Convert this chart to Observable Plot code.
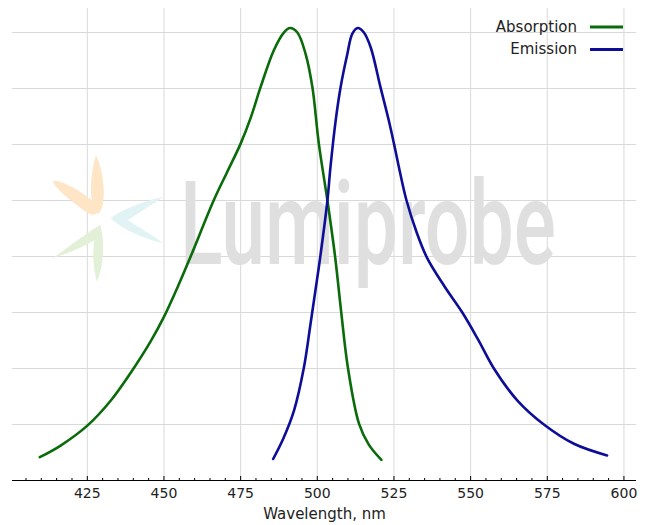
<!DOCTYPE html>
<html><head><meta charset="utf-8">
<script src="https://cdn.jsdelivr.net/npm/d3@7"></script>
<script src="https://cdn.jsdelivr.net/npm/@observablehq/plot@0.6"></script>
<style>body{margin:0;background:#fff} #chart svg{display:block}</style>
</head><body><div id="chart"></div>
<script>
// ---- data ----
const absorptionWavelength = [409.5, 416.3, 425.1, 432.6, 439.1, 445.6, 449.9, 454.4, 458.7, 466.2, 470.5, 475.0, 478.3, 481.5, 485.8, 489.1, 491.1, 493.5, 496.2, 498.4, 500.5, 503.3, 505.8, 507.8, 510.0, 513.6, 516.8, 520.9];
const absorptionIntensity  = [0.052, 0.078, 0.123, 0.178, 0.240, 0.310, 0.364, 0.431, 0.50, 0.625, 0.687, 0.752, 0.810, 0.878, 0.960, 1.0, 1.01, 1.0, 0.952, 0.878, 0.752, 0.625, 0.50, 0.376, 0.251, 0.127, 0.080, 0.046];
const emissionWavelength = [485.6, 489, 492.4, 495.6, 497.8, 500.5, 503.3, 504.3, 506.0, 507.6, 509.8, 511.4, 513.2, 515.2, 517.4, 520.6, 523.3, 525.0, 526.6, 529.1, 532.5, 535.8, 541.5, 547.3, 552.5, 557.6, 565.2, 573.9, 583.7, 594.5];
const emissionIntensity  = [0.048, 0.095, 0.156, 0.251, 0.350, 0.476, 0.625, 0.70, 0.804, 0.878, 0.952, 0.997, 1.01, 1.0, 0.967, 0.878, 0.804, 0.752, 0.70, 0.625, 0.552, 0.497, 0.433, 0.375, 0.314, 0.25, 0.179, 0.125, 0.082, 0.056];
const seriesNames  = ["Absorption", "Emission"];
const seriesColors = ["#0a6b0a", "#0d0d98"];
const majorTicks = [425, 450, 475, 500, 525, 550, 575, 600];
const minorTicks = d3.range(405, 601, 5).filter(v => !majorTicks.includes(v));
const gridLevels = [0.125, 0.25, 0.375, 0.5, 0.625, 0.75, 0.875, 1.0];
const axisLabel = "Wavelength, nm";
const watermarkText = "Lumiprobe";

const absorption = absorptionWavelength.map((x, i) => ({x, y: absorptionIntensity[i]}));
const emission = emissionWavelength.map((x, i) => ({x, y: emissionIntensity[i]}));

const FONT = "DejaVu Sans";

function watermark() {
  const g = d3.create("svg:g");
  const petals = [
    ["#fde5c6", "M96,155 C90,175 88,205 98,214 C106,208 106,178 96,155 Z"],
    ["#fde5c6", "M53,181 C60,179 86,193 100,208 C97,216 92,216 86,212 C72,201 55,189 53,181 Z"],
    ["#e2f3f5", "M163,197 C150,199 120,210 111,218 C118,228 150,241 163,243 C150,233 136,226 128,220 C140,212 155,203 163,197 Z"],
    ["#e3f0d8", "M53,258 C70,246 88,232 100,225 C103,230 100,236 95,240 C80,249 60,256 53,258 Z"],
    ["#e3f0d8", "M97,282 C92,265 91,240 100,225 C105,240 104,265 97,282 Z"]
  ];
  for (const [fill, d] of petals) g.append("path").attr("d", d).attr("fill", fill);
  g.append("text").attr("class", "wm").text(watermarkText)
    .attr("x", 0).attr("y", 0)
    .attr("text-anchor", "start")
    .attr("transform", "translate(180,264) scale(0.67,1)")
    .attr("font-family", "Roboto").attr("font-weight", 500).attr("font-size", 117)
    .attr("fill", "#dedfde");
  return g.node();
}

function legend() {
  const g = d3.create("svg:g").attr("font-family", FONT).attr("font-size", 15).attr("fill", "#222");
  seriesNames.forEach((name, i) => {
    const y = 27 + i * 22.5;
    g.append("text").text(name).attr("x", 577).attr("y", y)
      .attr("text-anchor", "end").attr("dominant-baseline", "middle");
    g.append("line").attr("x1", 590).attr("x2", 623).attr("y1", y).attr("y2", y)
      .attr("stroke", seriesColors[i]).attr("stroke-width", 2.8);
  });
  return g.node();
}

const chart = Plot.plot({
  width: 646,
  height: 525,
  marginLeft: 12,
  marginRight: 10,
  marginTop: 8,
  marginBottom: 45,
  style: {fontFamily: FONT, background: "#fff", color: "#222"},
  x: {domain: [400.6, 604.1], axis: null},
  y: {domain: [0, 1.0536], axis: null},
  marks: [
    Plot.ruleX(majorTicks, {stroke: "#d9d9d9", strokeWidth: 1}),
    Plot.ruleY(gridLevels, {stroke: "#d9d9d9", strokeWidth: 1}),
    watermark,
    Plot.line(absorption, {x: "x", y: "y", stroke: seriesColors[0], strokeWidth: 2.6, curve: "catmull-rom"}),
    Plot.line(emission, {x: "x", y: "y", stroke: seriesColors[1], strokeWidth: 2.6, curve: "catmull-rom"}),
    Plot.ruleY([0], {stroke: "#000", strokeWidth: 1}),
    Plot.ruleX(majorTicks, {y1: 0, y2: 0, insetTop: -4, insetBottom: -1, stroke: "#000"}),
    Plot.ruleX(minorTicks, {y1: 0, y2: 0, insetTop: -2, insetBottom: -1, stroke: "#000"}),
    Plot.axisX(majorTicks, {tickSize: 0, tickPadding: 8, fontSize: 14, label: null}),
    Plot.text([axisLabel], {text: d => d, frameAnchor: "bottom", dy: 34, fontSize: 15, lineAnchor: "middle", fill: "#222"}),
    legend
  ]
});
document.getElementById("chart").append(chart);
// fit the watermark word to its width in the reference
const wm = chart.querySelector("text.wm");
if (wm) {
  const w = wm.getComputedTextLength();
  if (w > 0) wm.setAttribute("transform", `translate(180,264) scale(${376 / w},1)`);
}
</script>
</body></html>
